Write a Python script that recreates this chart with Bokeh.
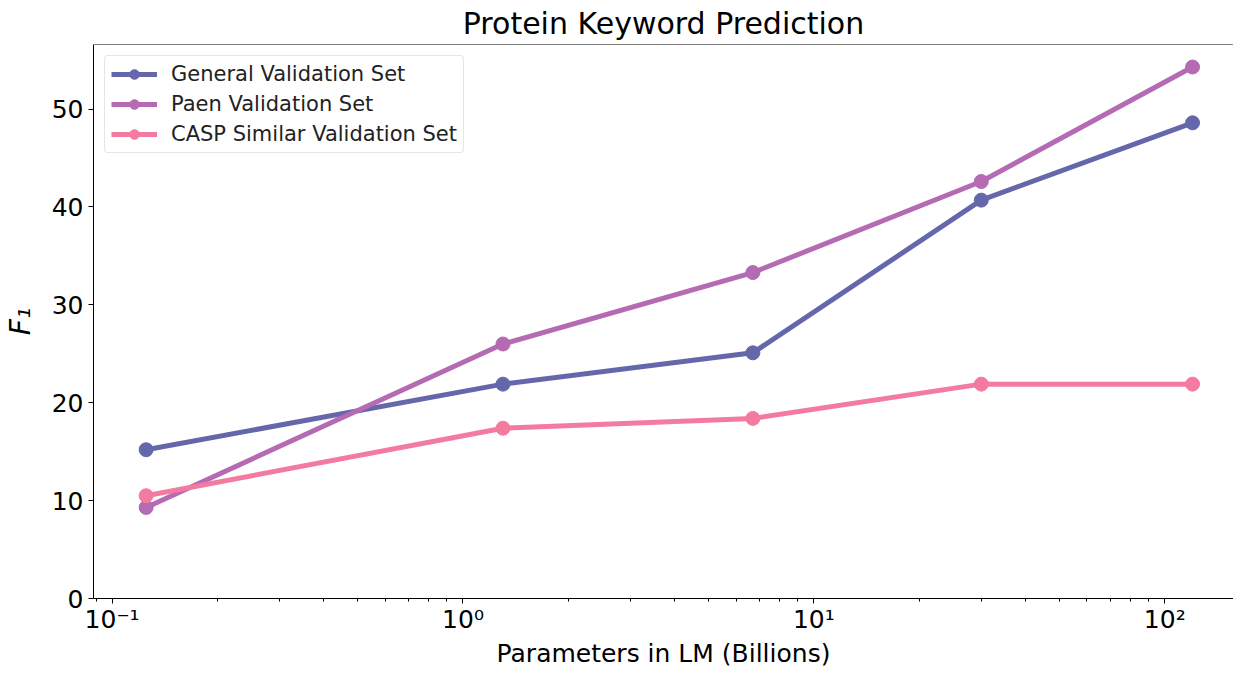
from bokeh.plotting import figure
from bokeh.models import Legend, LegendItem, Span, CustomJSTickFormatter, LogTicker, FixedTicker, Range1d
from bokeh.embed import file_html
from bokeh.resources import INLINE

# ---- data ----
params_billions = [0.125, 1.3, 6.7, 30, 120]
general_f1 = [15.2, 21.9, 25.1, 40.7, 48.6]
paen_f1 = [9.3, 26.0, 33.3, 42.6, 54.3]
casp_f1 = [10.5, 17.4, 18.4, 21.9, 21.9]
series_names = ["General Validation Set", "Paen Validation Set", "CASP Similar Validation Set"]
series_colors = ["#6567AB", "#B46BB4", "#F47BA0"]
y_ticks = [0, 10, 20, 30, 40, 50]

FONT = "DejaVu Sans"
Y_TOP = 56.6

p = figure(
    width=1233, height=670,
    x_axis_type="log",
    x_range=Range1d(0.0885, 157), y_range=Range1d(0, Y_TOP),
    output_backend="svg", toolbar_location=None,
    title="Protein Keyword Prediction",
    x_axis_label="Parameters in LM (Billions)", y_axis_label="F₁",
    min_border_left=85, min_border_right=0, min_border_top=0, min_border_bottom=0,
)
p.title.align = "center"
p.title.text_font = FONT
p.title.text_font_size = "30px"
p.title.text_font_style = "normal"
p.title.text_color = "#000000"
p.title.standoff = 7
p.title.offset = 6

p.xgrid.visible = False
p.ygrid.visible = False
p.outline_line_color = None
p.background_fill_color = "white"
p.border_fill_color = "white"

for ax in (p.xaxis[0], p.yaxis[0]):
    ax.axis_line_color = "#000000"
    ax.axis_line_width = 1
    ax.major_tick_line_color = "#000000"
    ax.minor_tick_line_color = "#000000"
    ax.major_tick_out = 5
    ax.major_tick_in = 0
    ax.minor_tick_out = 3
    ax.minor_tick_in = 0
    ax.major_label_text_font = FONT
    ax.major_label_text_font_size = "25px"
    ax.major_label_text_color = "#000000"
    ax.axis_label_text_font = FONT
    ax.axis_label_text_font_size = "25px"
    ax.axis_label_text_color = "#000000"
    ax.axis_label_text_font_style = "normal"

p.yaxis[0].axis_label_text_font_style = "italic"
p.yaxis[0].axis_label_text_font_size = "28px"
p.yaxis[0].ticker = FixedTicker(ticks=y_ticks, minor_ticks=[])
p.yaxis[0].minor_tick_out = 0
p.yaxis[0].major_label_standoff = 5
p.yaxis[0].axis_label_standoff = 12
p.xaxis[0].ticker = LogTicker(num_minor_ticks=10)
p.xaxis[0].formatter = CustomJSTickFormatter(code="""
const e = Math.round(Math.log10(tick));
const sup = {'-':'\u207b','0':'\u2070','1':'\u00b9','2':'\u00b2','3':'\u00b3','4':'\u2074','5':'\u2075','6':'\u2076','7':'\u2077','8':'\u2078','9':'\u2079'};
return '10' + String(e).split('').map(c => sup[c]).join('');
""")
p.xaxis[0].major_label_standoff = 1
p.xaxis[0].axis_label_standoff = 2

# top spine
p.add_layout(Span(location=Y_TOP, dimension="width", line_color="#000000", line_width=1))

items = []
for name, ys, col in zip(series_names, [general_f1, paen_f1, casp_f1], series_colors):
    ln = p.line(params_billions, ys, line_color=col, line_width=5)
    sc = p.scatter(params_billions, ys, size=14, fill_color=col, line_color=col)
    items.append(LegendItem(label=name, renderers=[ln, sc]))

legend = Legend(items=items, location="top_left")
legend.margin = 11
legend.padding = 6
legend.spacing = 6
legend.glyph_width = 46
legend.glyph_height = 24
legend.label_height = 24
legend.label_standoff = 14
legend.label_text_font = FONT
legend.label_text_font_size = "21px"
legend.label_text_color = "#222222"
legend.border_line_color = "#cccccc"
legend.border_line_width = 1
legend.border_radius = 4
legend.background_fill_alpha = 0.8
p.add_layout(legend, "center")

open("out.html", "w").write(file_html(p, INLINE))
